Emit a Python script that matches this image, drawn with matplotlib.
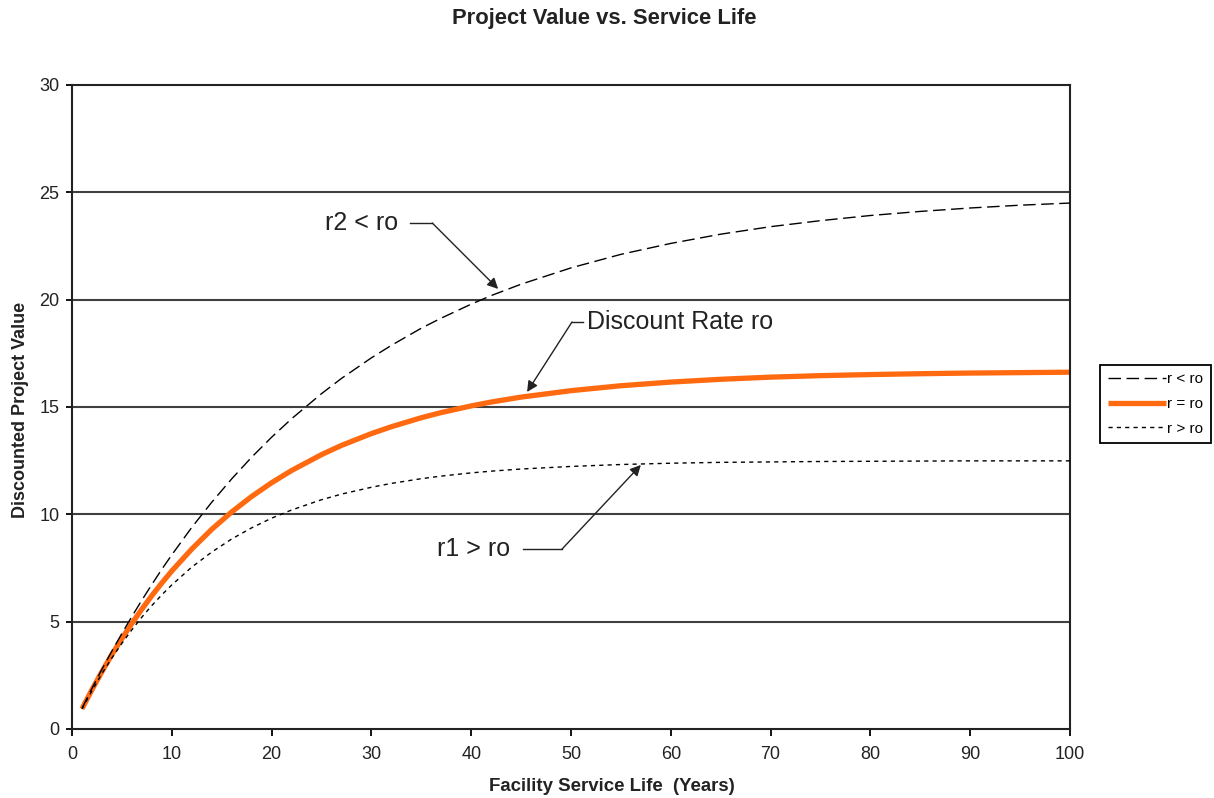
import matplotlib
matplotlib.use("Agg")
import matplotlib.pyplot as plt

plt.rcParams['font.family'] = ['Liberation Sans', 'DejaVu Sans']

# Service life (years)
years = [1, 2, 3, 4, 5, 6, 7, 8, 9, 10, 12, 14, 16, 18, 20, 22, 25, 27, 30, 32,
         35, 37, 40, 42, 45, 50, 55, 60, 65, 70, 75, 80, 85, 90, 95, 100]

# Discounted project value for each discount rate case
value_r_lt_ro = [0.96, 1.89, 2.78, 3.63, 4.45, 5.24, 6.00, 6.73, 7.44, 8.11,
                 9.39, 10.56, 11.65, 12.66, 13.59, 14.45, 15.62, 16.33, 17.29, 17.87,
                 18.67, 19.14, 19.79, 20.19, 20.72, 21.48, 22.11, 22.62, 23.05,
                 23.40, 23.68, 23.92, 24.11, 24.27, 24.40, 24.50]
value_r_eq_ro = [0.94, 1.83, 2.67, 3.47, 4.21, 4.92, 5.58, 6.21, 6.80, 7.36,
                 8.38, 9.30, 10.11, 10.83, 11.47, 12.04, 12.78, 13.21, 13.76, 14.08,
                 14.50, 14.74, 15.05, 15.23, 15.46, 15.76, 15.99, 16.16, 16.29,
                 16.39, 16.46, 16.51, 16.55, 16.58, 16.60, 16.62]
value_r_gt_ro = [0.93, 1.78, 2.58, 3.31, 3.99, 4.62, 5.21, 5.75, 6.25, 6.71,
                 7.54, 8.24, 8.85, 9.37, 9.82, 10.20, 10.68, 10.94, 11.26, 11.44,
                 11.66, 11.78, 11.93, 12.01, 12.11, 12.23, 12.32, 12.38, 12.42,
                 12.44, 12.46, 12.47, 12.48, 12.49, 12.49, 12.49]

series_labels = ['r < ro', 'r = ro', 'r > ro']
x_ticks = [0, 10, 20, 30, 40, 50, 60, 70, 80, 90, 100]
y_ticks = [0, 5, 10, 15, 20, 25, 30]

fig = plt.figure(figsize=(12.14, 7.98), dpi=100)
ax = fig.add_axes([0.0593, 0.0865, 0.8221, 0.807])

for yv in y_ticks[1:-1]:
    ax.axhline(yv, color='#404040', lw=1.5, zorder=1)

l2, = ax.plot(years, value_r_eq_ro, color='#FF6A10', lw=3.8,
              solid_capstyle='butt', solid_joinstyle='round', zorder=2,
              label=series_labels[1])
l1, = ax.plot(years, value_r_lt_ro, color='black', lw=1.0,
              linestyle=(0, (9, 4)), zorder=3, label=series_labels[0])
l3, = ax.plot(years, value_r_gt_ro, color='black', lw=1.0,
              linestyle=(0, (3, 3)), zorder=3, label=series_labels[2])

ax.set_xlim(0, 100)
ax.set_ylim(0, 30)
ax.set_xticks(x_ticks)
ax.set_yticks(y_ticks)
ax.tick_params(axis='both', direction='out', length=5, width=1.3,
               labelsize=13, color='black', labelcolor='#222222')
ax.tick_params(axis='y', length=4, pad=5)
ax.tick_params(axis='x', pad=7)
for sp in ax.spines.values():
    sp.set_linewidth(1.5)
    sp.set_color('#222222')

# Annotations with a short leader line and an arrow
arrow_kw = dict(arrowstyle='-|>', color='#222222', lw=1.0, mutation_scale=16,
                shrinkA=0, shrinkB=0)

ax.text(32.7, 23.57, 'r2 < ro', fontsize=18, ha='right', va='center', color='#222222')
ax.plot([33.9, 36.1], [23.57, 23.57], color='#222222', lw=1.0)
ax.annotate('', xy=(42.7, 20.5), xytext=(36.1, 23.57), arrowprops=arrow_kw)

ax.text(51.6, 18.96, 'Discount Rate ro', fontsize=18, ha='left', va='center', color='#222222')
ax.plot([50.1, 51.2], [18.96, 18.96], color='#222222', lw=1.0)
ax.annotate('', xy=(45.6, 15.7), xytext=(50.1, 18.96), arrowprops=arrow_kw)

ax.text(43.9, 8.38, 'r1 > ro', fontsize=18, ha='right', va='center', color='#222222')
ax.plot([45.2, 49.1], [8.38, 8.38], color='#222222', lw=1.0)
ax.annotate('', xy=(57.0, 12.3), xytext=(49.1, 8.38), arrowprops=arrow_kw)

fig.text(0.498, 0.977, 'Project Value vs. Service Life', fontsize=15.8,
         fontweight='bold', ha='center', va='center', color='#222222')
fig.text(0.504, 0.014, 'Facility Service Life  (Years)', fontsize=13.4,
         fontweight='bold', ha='center', va='center', color='#222222')
fig.text(0.017, 0.486, 'Discounted Project Value', fontsize=13,
         fontweight='bold', ha='center', va='center', rotation=90, color='#222222')

leg = fig.legend(handles=[l1, l2, l3], labels=series_labels,
                 loc='upper left', bbox_to_anchor=(0.906, 0.543),
                 fontsize=11, handlelength=3.8, handletextpad=0.1,
                 borderpad=0.5, labelspacing=0.7, borderaxespad=0,
                 fancybox=False, framealpha=1)
leg.get_frame().set_edgecolor('black')
leg.get_frame().set_linewidth(1.3)

fig.savefig('out.png', dpi=100)
